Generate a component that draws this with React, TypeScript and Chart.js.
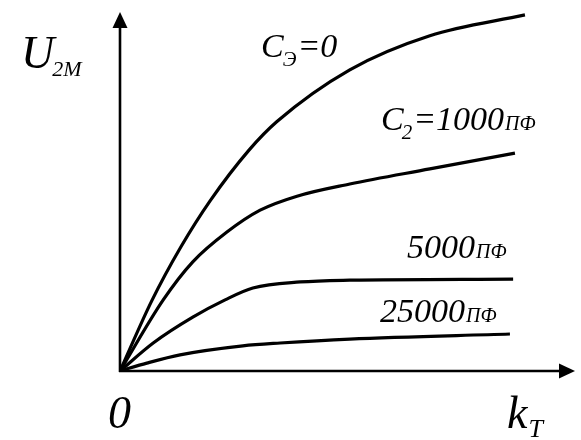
import React, { useEffect, useRef } from "react";
import { Chart, registerables } from "chart.js";

Chart.register(...registerables);

// Output amplitude U2M versus coupling factor kT for several capacitances
const seriesNames = ["Cэ=0", "C2=1000пФ", "5000пФ", "25000пФ"];

const kC0 = [0, 0.7, 1.34, 1.98, 2.84, 3.45, 5.05, 6.81, 8.9];
const uC0 = [0, 1.96, 3.46, 4.74, 6.16, 6.95, 8.39, 9.34, 9.92];

const kC1000 = [0, 0.95, 1.6, 2.35, 3.08, 3.89, 5.05, 6.81, 8.68];
const uC1000 = [0, 1.98, 3.04, 3.87, 4.48, 4.87, 5.21, 5.63, 6.07];

const kC5000 = [0, 0.73, 1.6, 2.31, 2.92, 3.96, 5.05, 8.64];
const uC5000 = [0, 0.78, 1.5, 1.98, 2.31, 2.48, 2.53, 2.56];

const kC25000 = [0, 0.59, 1.32, 2.7, 3.52, 5.05, 8.57];
const uC25000 = [0, 0.22, 0.45, 0.7, 0.78, 0.89, 1.03];

const toPoints = (xs: number[], ys: number[]) => xs.map((x, i) => ({ x, y: ys[i] }));

const FONT = "'Liberation Serif', 'Times New Roman', serif";

// Draws the arrowed axes and the italic labels
const decorPlugin = {
  id: "decor",
  afterDatasetsDraw(chart: any) {
    const { ctx, chartArea } = chart;
    const x0 = chartArea.left;
    const y0 = chartArea.bottom;
    ctx.save();
    ctx.strokeStyle = "#000";
    ctx.fillStyle = "#000";
    ctx.lineWidth = 2.6;
    ctx.lineCap = "butt";
    // vertical axis
    ctx.beginPath();
    ctx.moveTo(x0, y0 + 1);
    ctx.lineTo(x0, chartArea.top + 14);
    ctx.stroke();
    ctx.beginPath();
    ctx.moveTo(x0, chartArea.top);
    ctx.lineTo(x0 - 7.5, chartArea.top + 16);
    ctx.lineTo(x0 + 7.5, chartArea.top + 16);
    ctx.closePath();
    ctx.fill();
    // horizontal axis
    ctx.beginPath();
    ctx.moveTo(x0 - 1, y0);
    ctx.lineTo(chartArea.right - 14, y0);
    ctx.stroke();
    ctx.beginPath();
    ctx.moveTo(chartArea.right, y0);
    ctx.lineTo(chartArea.right - 16, y0 - 7.5);
    ctx.lineTo(chartArea.right - 16, y0 + 7.5);
    ctx.closePath();
    ctx.fill();

    const put = (text: string, x: number, y: number, size: number) => {
      ctx.font = `italic ${size}px ${FONT}`;
      ctx.fillText(text, x, y);
      return x + ctx.measureText(text).width;
    };
    ctx.textBaseline = "alphabetic";
    ctx.textAlign = "left";

    // axis titles
    let x = put("U", 21, 68, 46);
    put("2M", x - 2, 76, 22);
    put("0", 108, 428, 46);
    x = put("k", 507, 428, 46);
    put("T", x + 1, 437, 26);

    // curve labels
    x = put("C", 261, 57, 34);
    x = put("Э", x - 1, 66, 21);
    put("=0", x + 1, 57, 34);

    x = put("C", 381, 130, 34);
    x = put("2", x - 2, 139, 21);
    x = put("=1000", x + 1, 130, 34);
    put("ПФ", x + 1, 130, 20);

    x = put("5000", 407, 258, 34);
    put("ПФ", x + 1, 258, 20);

    x = put("25000", 380, 322, 34);
    put("ПФ", x + 1, 322, 20);

    ctx.restore();
  },
};

export default function App() {
  const canvasRef = useRef<HTMLCanvasElement | null>(null);

  useEffect(() => {
    if (!canvasRef.current) return;
    const curves = [
      toPoints(kC0, uC0),
      toPoints(kC1000, uC1000),
      toPoints(kC5000, uC5000),
      toPoints(kC25000, uC25000),
    ];
    const chart = new Chart(canvasRef.current, {
      type: "line",
      data: {
        datasets: curves.map((data, i) => ({
          label: seriesNames[i],
          data,
          borderColor: "#000",
          borderWidth: 3.2,
          pointRadius: 0,
          fill: false,
          cubicInterpolationMode: "monotone" as const,
          borderCapStyle: "butt" as const,
        })),
      },
      options: {
        responsive: false,
        animation: false,
        events: [],
        layout: { padding: { left: 120, right: 6, top: 12, bottom: 69 } },
        plugins: { legend: { display: false }, tooltip: { enabled: false } },
        scales: {
          x: { type: "linear", min: 0, max: 10, display: false },
          y: { type: "linear", min: 0, max: 10, display: false },
        },
      },
      plugins: [decorPlugin],
    });
    return () => chart.destroy();
  }, []);

  return (
    <div style={{ position: "fixed", left: 0, top: 0, width: 581, height: 440, background: "#fff" }}>
      <canvas ref={canvasRef} width={581} height={440} />
    </div>
  );
}
